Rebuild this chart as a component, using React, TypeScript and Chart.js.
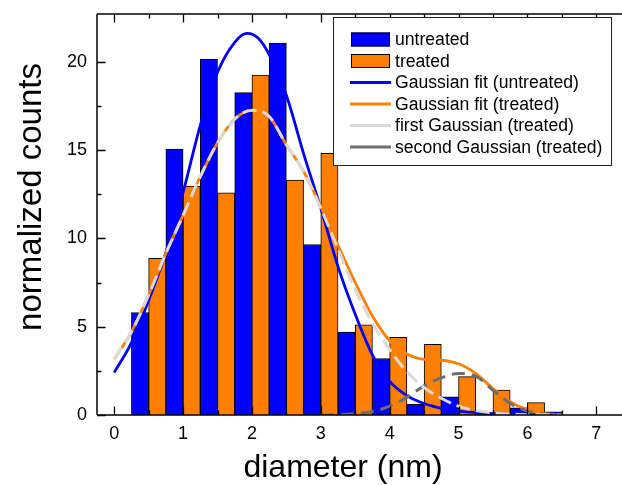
import React, { useEffect, useRef } from 'react';
import { Chart, registerables } from 'chart.js';

Chart.register(...registerables);

const FONT = "'Liberation Sans', Arial, Helvetica, sans-serif";
const BLUE = '#0000FF';
const ORANGE = '#FF8000';
const LIGHT_GRAY = '#D9D9D9';
const DARK_GRAY = '#6E6E6E';

// Histogram bins (bin centers in nm) and normalized counts
const untreatedBinCenters = [0.375, 0.875, 1.375, 1.875, 2.375, 2.875, 3.375, 3.875, 4.375, 4.875, 5.375, 5.875, 6.375];
const untreatedCounts = [5.8, 15.05, 20.15, 18.25, 21.05, 9.65, 4.7, 3.2, 0.6, 1.03, 0.12, 0.4, 0.18];

const treatedBinCenters = [0.625, 1.125, 1.625, 2.125, 2.625, 3.125, 3.625, 4.125, 4.625, 5.125, 5.625, 6.125];
const treatedCounts = [8.87, 12.96, 12.58, 19.24, 13.3, 14.81, 5.11, 4.4, 4.0, 2.17, 1.41, 0.7];

// Fit curves
const fitUntreatedX = [0, 0.25, 0.5, 0.75, 1.0, 1.25, 1.5, 1.75, 1.93, 2.1, 2.25, 2.5, 2.75, 3.0, 3.25, 3.5, 3.75, 4.0, 4.25, 4.5, 4.75, 5.0, 5.5, 6.0, 6.5];
const fitUntreatedY = [2.4, 4.1, 6.5, 9.2, 12.6, 16.4, 19.4, 21.1, 21.6, 21.3, 20.4, 18.1, 14.8, 11.7, 8.4, 5.7, 3.4, 1.9, 1.1, 0.65, 0.38, 0.22, 0.08, 0.03, 0.01];

const fitTreatedX = [0, 0.25, 0.5, 0.75, 1.0, 1.25, 1.5, 1.75, 2.0, 2.25, 2.5, 2.75, 3.0, 3.25, 3.5, 3.75, 4.0, 4.25, 4.5, 4.75, 5.0, 5.25, 5.5, 5.75, 6.0, 6.2, 6.4];
const fitTreatedY = [3.15, 4.7, 6.8, 9.15, 11.3, 13.5, 15.4, 16.75, 17.25, 16.9, 15.3, 13.8, 11.8, 9.6, 7.5, 5.6, 4.2, 3.45, 3.15, 3.1, 2.9, 2.35, 1.5, 0.75, 0.3, 0.1, 0.02];

const firstGaussX = [0, 0.25, 0.5, 0.75, 1.0, 1.25, 1.5, 1.75, 2.0, 2.25, 2.5, 2.75, 3.0, 3.25, 3.5, 3.75, 4.0, 4.25, 4.5, 4.75, 5.0, 5.25, 5.5, 5.75, 6.0, 6.25, 6.5];
const firstGaussY = [3.15, 4.7, 6.8, 9.15, 11.3, 13.5, 15.4, 16.75, 17.25, 16.9, 15.3, 13.8, 11.7, 9.4, 7.1, 5.2, 3.7, 2.45, 1.55, 0.95, 0.5, 0.25, 0.12, 0.05, 0.02, 0.01, 0];

const secondGaussX = [3.0, 3.25, 3.5, 3.75, 4.0, 4.25, 4.5, 4.75, 5.0, 5.25, 5.5, 5.75, 6.0, 6.25, 6.5];
const secondGaussY = [0, 0.02, 0.08, 0.2, 0.5, 1.0, 1.65, 2.1, 2.35, 2.2, 1.4, 0.65, 0.22, 0.05, 0];

// Axis ticks
const xMajorTicks = [0, 1, 2, 3, 4, 5, 6, 7];
const xMinorTicks = [0.5, 1.5, 2.5, 3.5, 4.5, 5.5, 6.5];
const yMajorTicks = [0, 5, 10, 15, 20];
const yMinorTicks = [2.5, 7.5, 12.5, 17.5];

const X_MIN = -0.25;
const X_MAX = 7.374;
const Y_MIN = 0;
const Y_MAX = 22.7;

const xTitle = 'diameter (nm)';
const yTitle = 'normalized counts';

const pts = (xs: number[], ys: number[]) => xs.map((x, i) => ({ x, y: ys[i] }));

const framePlugin = {
  id: 'frameTicks',
  afterDraw(chart: any) {
    const { ctx, chartArea: a, scales } = chart;
    const xs = scales.x;
    const ys = scales.y;
    ctx.save();
    ctx.strokeStyle = '#000';
    ctx.lineWidth = 1.5;
    ctx.setLineDash([]);
    ctx.beginPath();
    ctx.moveTo(a.left, a.top);
    ctx.lineTo(a.left, a.bottom);
    ctx.moveTo(a.left, a.bottom);
    ctx.lineTo(a.right, a.bottom);
    ctx.moveTo(a.left, a.top);
    ctx.lineTo(a.right, a.top);
    ctx.stroke();

    ctx.lineWidth = 1.3;
    ctx.beginPath();
    const major = 8.5;
    const minor = 4.5;
    xMajorTicks.forEach((v) => {
      const p = Math.round(xs.getPixelForValue(v)) + 0.5;
      ctx.moveTo(p, a.bottom);
      ctx.lineTo(p, a.bottom - major);
      ctx.moveTo(p, a.top);
      ctx.lineTo(p, a.top + major);
    });
    xMinorTicks.forEach((v) => {
      const p = Math.round(xs.getPixelForValue(v)) + 0.5;
      ctx.moveTo(p, a.bottom);
      ctx.lineTo(p, a.bottom - minor);
      ctx.moveTo(p, a.top);
      ctx.lineTo(p, a.top + minor);
    });
    yMajorTicks.forEach((v) => {
      const p = Math.round(ys.getPixelForValue(v)) + 0.5;
      ctx.moveTo(a.left, p);
      ctx.lineTo(a.left + major, p);
    });
    yMinorTicks.forEach((v) => {
      const p = Math.round(ys.getPixelForValue(v)) + 0.5;
      ctx.moveTo(a.left, p);
      ctx.lineTo(a.left + minor, p);
    });
    ctx.stroke();

    ctx.fillStyle = '#000';
    ctx.textAlign = 'center';
    ctx.textBaseline = 'alphabetic';
    ctx.font = `32px ${FONT}`;
    ctx.fillText(xTitle, 343, 477);
    ctx.font = `33px ${FONT}`;
    ctx.translate(41, 197);
    ctx.rotate(-Math.PI / 2);
    ctx.fillText(yTitle, 0, 0);
    ctx.restore();
  },
};

const legendPlugin = {
  id: 'boxLegend',
  afterDraw(chart: any) {
    const ctx = chart.ctx;
    ctx.save();
    const L = 333.5;
    const T = 17.5;
    const W = 278;
    const H = 148;
    ctx.fillStyle = '#fff';
    ctx.fillRect(L, T, W, H);
    ctx.strokeStyle = '#222';
    ctx.lineWidth = 1;
    ctx.setLineDash([]);
    ctx.strokeRect(L, T, W, H);
    ctx.font = `17.6px ${FONT}`;
    ctx.textBaseline = 'middle';
    ctx.textAlign = 'left';
    chart.data.datasets.forEach((ds: any, i: number) => {
      const cy = 39.5 + i * 21.5;
      if (ds.type === 'bar') {
        ctx.fillStyle = ds.backgroundColor;
        ctx.fillRect(351, cy - 7, 39, 14);
        ctx.strokeStyle = '#000';
        ctx.lineWidth = 1;
        ctx.strokeRect(351.5, cy - 6.5, 38, 13);
      } else {
        ctx.strokeStyle = ds.borderColor;
        ctx.lineWidth = 3;
        ctx.beginPath();
        ctx.moveTo(350, cy);
        ctx.lineTo(391, cy);
        ctx.stroke();
      }
      ctx.fillStyle = '#000';
      ctx.fillText(ds.label, 395, cy + 1);
    });
    ctx.restore();
  },
};

export default function App() {
  const canvasRef = useRef<HTMLCanvasElement | null>(null);

  useEffect(() => {
    if (!canvasRef.current) return;
    const barCommon = {
      type: 'bar' as const,
      borderColor: '#000',
      borderWidth: 1,
      grouped: false,
      barPercentage: 1,
      categoryPercentage: 1,
    };
    const lineCommon = {
      type: 'line' as const,
      pointRadius: 0,
      fill: false,
      cubicInterpolationMode: 'monotone' as const,
      borderCapStyle: 'butt' as const,
    };
    const chart = new Chart(canvasRef.current, {
      type: 'bar',
      data: {
        datasets: [
          { ...barCommon, label: 'untreated', data: pts(untreatedBinCenters, untreatedCounts), backgroundColor: BLUE, order: 6 },
          { ...barCommon, label: 'treated', data: pts(treatedBinCenters, treatedCounts), backgroundColor: ORANGE, order: 5 },
          { ...lineCommon, label: 'Gaussian fit (untreated)', data: pts(fitUntreatedX, fitUntreatedY), borderColor: BLUE, borderWidth: 2.8, order: 4 },
          { ...lineCommon, label: 'Gaussian fit (treated)', data: pts(fitTreatedX, fitTreatedY), borderColor: ORANGE, borderWidth: 2.8, order: 3 },
          { ...lineCommon, label: 'first Gaussian (treated)', data: pts(firstGaussX, firstGaussY), borderColor: LIGHT_GRAY, borderWidth: 3, borderDash: [14, 6], order: 1 },
          { ...lineCommon, label: 'second Gaussian (treated)', data: pts(secondGaussX, secondGaussY), borderColor: DARK_GRAY, borderWidth: 3, borderDash: [13, 7], order: 2 },
        ] as any,
      },
      options: {
        animation: false,
        responsive: false,
        devicePixelRatio: 1,
        layout: { padding: { top: 14, right: 0, left: 0, bottom: 0 } },
        plugins: { legend: { display: false }, tooltip: { enabled: false }, title: { display: false } },
        scales: {
          x: {
            type: 'linear',
            offset: false,
            min: X_MIN,
            max: X_MAX,
            grid: { display: false, drawTicks: false, offset: false },
            border: { display: false },
            afterBuildTicks: (scale: any) => {
              scale.ticks = xMajorTicks.map((v) => ({ value: v }));
            },
            afterFit: (scale: any) => {
              scale.height = 70;
              scale.paddingLeft = 0;
              scale.paddingRight = 0;
            },
            ticks: {
              color: '#000',
              font: { family: FONT, size: 18 },
              padding: 8,
              maxRotation: 0,
              autoSkip: false,
              callback: (v: any) => String(v),
            },
          },
          y: {
            type: 'linear',
            min: Y_MIN,
            max: Y_MAX,
            grid: { display: false, drawTicks: false },
            border: { display: false },
            afterBuildTicks: (scale: any) => {
              scale.ticks = yMajorTicks.map((v) => ({ value: v }));
            },
            afterFit: (scale: any) => {
              scale.width = 97;
              scale.paddingTop = 0;
              scale.paddingBottom = 0;
            },
            ticks: {
              color: '#000',
              font: { family: FONT, size: 18 },
              padding: 10,
              callback: (v: any) => String(v),
            },
          },
        },
      } as any,
      plugins: [framePlugin, legendPlugin],
    });
    return () => chart.destroy();
  }, []);

  return (
    <div style={{ position: 'fixed', left: 0, top: 0, width: 622, height: 485, background: '#fff' }}>
      <canvas ref={canvasRef} width={622} height={485} style={{ display: 'block' }} />
    </div>
  );
}
